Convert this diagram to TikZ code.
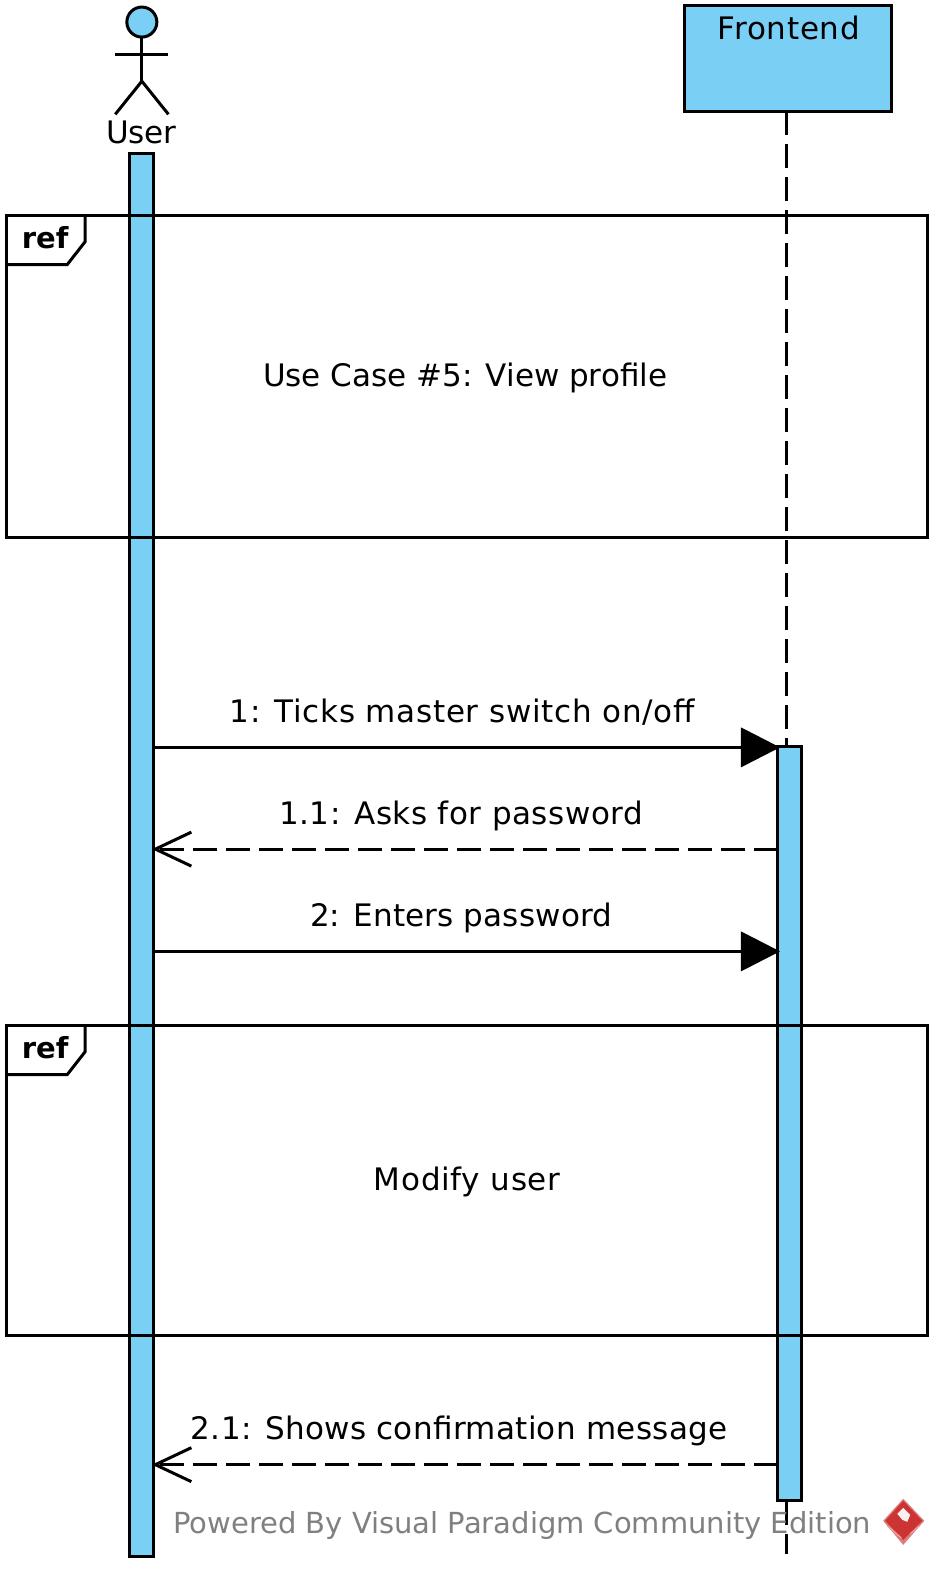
\documentclass[tikz,border=0pt]{standalone}
\usepackage{fontspec}
\setmainfont{DejaVu Sans}
\usetikzlibrary{arrows.meta}
\definecolor{vpblue}{HTML}{7ACFF5}
\definecolor{vpgrey}{HTML}{808080}
\definecolor{vpred}{HTML}{CC3333}
\newcommand{\lsp}[1]{\addfontfeatures{LetterSpace=#1}}
\tikzset{
  x=1.0025pt,y=-1.0025pt,
  ln/.style={line width=3pt,draw=black},
  bar/.style={ln,fill=vpblue,rectangle,inner sep=0pt,outer sep=0pt,minimum width=24pt},
  frm/.style={ln,rectangle,inner sep=0pt,outer sep=0pt,minimum width=921.5pt},
  txt/.style={font=\fontsize{31}{36}\selectfont,text=black,inner sep=0pt,anchor=base},
  reftxt/.style={font=\fontsize{29}{34}\selectfont\bfseries,text=black,inner sep=0pt,anchor=base},
  dashline/.style={ln,dash pattern=on 24pt off 9pt},
  sync/.style={ln,shorten >=-2pt,-{Triangle[length=39pt,width=40pt,line width=0pt]}},
  ret/.style={ln,dashline,shorten >=-2pt,-{Straight Barb[length=36pt,width=34pt,line width=3pt]}}
}
\begin{document}
\begin{tikzpicture}
\useasboundingbox (0,0) rectangle (936.66,1568.08);
% lifelines
\node[ln,fill=vpblue,rectangle,inner sep=0pt,outer sep=0pt,minimum width=206.5pt,minimum height=105.3pt] (front) at (786,58.5) {};
\coordinate (frontend) at (784.5,1550);
\node[bar,minimum height=1403.5pt] (ubar) at (141.5,853) {};
\node[bar,minimum height=753.9pt] (fbar) at (788,1121) {};
\draw[dashline] (784.5,111) -- (784.5,745);
\draw[dashline] (784.5,1497) -- (frontend);
% actor
\node[circle,ln,fill=vpblue,minimum size=30pt,inner sep=0pt,outer sep=0pt] (head) at (141.5,22) {};
\coordinate (hip) at (141.5,81);
\coordinate (larm) at (115,54);
\coordinate (rarm) at (168,54);
\coordinate (lleg) at (115,114);
\coordinate (rleg) at (168,114);
\draw[ln] (head.south) -- (hip);
\draw[ln] (larm) -- (rarm);
\draw[ln] (lleg) -- (hip) -- (rleg);
% labels of lifelines
\node[txt] (userlabel) at (141,143) {User};
\node[txt] (frontlabel) at (787,39) {\lsp{2.4}Frontend};
% frames
\node[frm,minimum height=321.5pt] (ref1) at (466,375.5) {};
\node[frm,minimum height=309.5pt] (ref2) at (466,1177.5) {};
\draw[ln] (6,264) -- (67,264) -- (85,241) -- (85,215);
\draw[ln] (6,1072) -- (67,1072) -- (85,1049) -- (85,1023);
\node[reftxt] (r1) at (45,248) {ref};
\node[reftxt] (r2) at (45,1056) {ref};
\node[txt] (uc) at (464,386) {Use Case \#5: View profile};
\node[txt] (mod) at (466,1188) {\lsp{2.3}Modify user};
% messages
\coordinate (ua) at (ubar.east |- 0,745.5);
\coordinate (fa) at (fbar.west |- 0,745.5);
\coordinate (ub) at (ubar.east |- 0,847);
\coordinate (fb) at (fbar.west |- 0,847);
\coordinate (uc1) at (ubar.east |- 0,949);
\coordinate (fc) at (fbar.west |- 0,949);
\coordinate (ud) at (ubar.east |- 0,1461);
\coordinate (fd) at (fbar.west |- 0,1461);
\draw[sync] (ua) -- (fa);
\draw[ret] (fb) -- (ub);
\draw[sync] (uc1) -- (fc);
\draw[ret] (fd) -- (ud);
\node[txt] (m1) at (461,721) {\lsp{2.3}1: Ticks master switch on/off};
\node[txt] (m2) at (460,822) {\lsp{1.8}1.1: Asks for password};
\node[txt] (m3) at (460,924) {\lsp{0.5}2: Enters password};
\node[txt] (m4) at (458,1436) {\lsp{1.1}2.1: Shows confirmation message};
% footer
\node[txt,font=\fontsize{29}{34}\selectfont,text=vpgrey] (pb) at (521,1530) {Powered By Visual Paradigm Community Edition};
\fill[white!35!vpred] (901,1495) -- (922,1517) -- (901,1541) -- (881,1517) -- cycle;
\fill[vpred] (901,1497) -- (920,1517) -- (901,1536) -- (883,1517) -- cycle;
\fill[white!92!vpred] (895,1510) -- (901,1504) -- (908,1511) -- (905,1518) -- (900,1516) -- cycle;
\draw[white!55!vpred,line width=1.3pt] (885,1522) -- (899,1534);
\draw[white!55!vpred,line width=1.3pt] (917,1522) -- (908,1530);
\end{tikzpicture}
\end{document}
